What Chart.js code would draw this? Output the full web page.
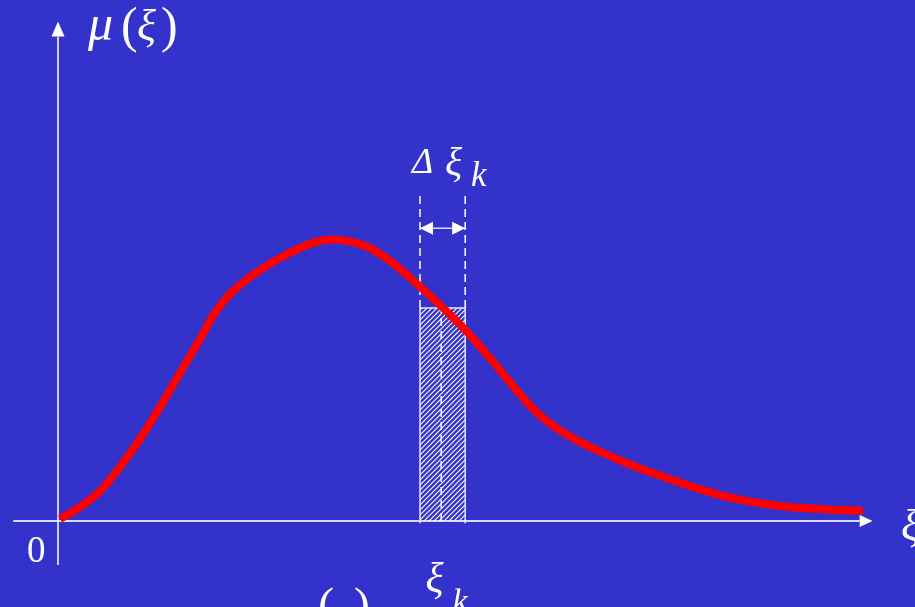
<!DOCTYPE html>
<html>
<head>
<meta charset="utf-8">
<script src="https://cdn.jsdelivr.net/npm/chart.js@4.4.1/dist/chart.umd.min.js"></script>
<style>
  html, body { margin: 0; padding: 0; background: #3333cc; }
  canvas { display: block; }
</style>
</head>
<body>
<canvas id="chart" width="915" height="607"></canvas>
<script>
// density curve mu(xi), sampled along the xi axis
const xiValues = [0.025, 0.275, 0.525, 0.775, 1.025, 1.275, 1.525, 1.775, 1.96, 2.15, 2.4, 2.71, 3.025, 3.275, 3.525,
                  3.84, 4.15, 4.46, 4.775, 5.09, 5.4, 5.71, 6.025, 6.4, 6.9, 7.4, 7.9, 8.46, 9.025, 9.525, 10.06];
const muValues = [0.007, 0.05, 0.107, 0.193, 0.293, 0.407, 0.529, 0.65, 0.743, 0.811, 0.871, 0.929, 0.975, 1.0, 1.004,
                  0.982, 0.929, 0.854, 0.771, 0.682, 0.582, 0.475, 0.377, 0.302, 0.232, 0.175, 0.125, 0.08, 0.054, 0.043, 0.036];

// the strip [xi_k, xi_k + dxi] under the curve
const stripEdges = [4.525, 5.09];
const stripMid = 4.79;
const stripHeight = 0.761;
const guideTop = 1.164;
const arrowLevel = 1.046;

// axis extents (xi and mu units)
const xiAxis = [-0.56, 10.02];
const muAxis = [-0.157, 1.73];

const BG = '#3333cc';

// diagonal hatching for the strip
function hatch() {
    const c = document.createElement('canvas');
    c.width = 5; c.height = 5;
    const g = c.getContext('2d');
    g.strokeStyle = '#ffffff';
    g.lineWidth = 1.1;
    g.beginPath();
    g.moveTo(-1, 6); g.lineTo(6, -1);
    g.moveTo(-1, 1); g.lineTo(1, -1);
    g.moveTo(4, 6); g.lineTo(6, 4);
    g.stroke();
    return g.createPattern(c, 'repeat');
}

const curve = xiValues.map((x, i) => ({ x: x, y: muValues[i] }));
const [sL, sR] = stripEdges;

function guide(points) {
    return {
        data: points, borderColor: '#ffffff', borderWidth: 1.5, borderDash: [8, 5],
        pointRadius: 0, fill: false, tension: 0, order: 2
    };
}

const datasets = [
    {
        data: curve, borderColor: '#ff0000', borderWidth: 8, pointRadius: 0,
        tension: 0.4, fill: false, order: 0
    },
    {
        data: [{ x: sL, y: -0.008 }, { x: sL, y: stripHeight }, { x: sR, y: stripHeight }, { x: sR, y: -0.008 }],
        borderColor: '#e8e8ff', borderWidth: 1.5, backgroundColor: hatch(),
        pointRadius: 0, fill: 'origin', tension: 0, order: 3
    },
    guide([{ x: sL, y: stripHeight }, { x: sL, y: guideTop }]),
    guide([{ x: sR, y: stripHeight }, { x: sR, y: guideTop }]),
    guide([{ x: stripMid, y: 0 }, { x: stripMid, y: stripHeight }]),
    {
        data: [{ x: sL, y: arrowLevel }, { x: sR, y: arrowLevel }],
        borderColor: '#d8d8ff', borderWidth: 1.5, pointRadius: 0, fill: false, order: 2
    }
];

const decorations = {
    id: 'decorations',
    beforeDraw(chart) {
        const { ctx } = chart;
        ctx.save();
        ctx.fillStyle = BG;
        ctx.fillRect(0, 0, chart.width, chart.height);
        ctx.restore();
    },
    beforeDatasetsDraw(chart) {
        const { ctx, scales: { x, y } } = chart;
        const x0 = x.getPixelForValue(0), y0 = y.getPixelForValue(0);
        ctx.save();
        // xi axis
        const xa = x.getPixelForValue(xiAxis[0]), xb = x.getPixelForValue(xiAxis[1]);
        ctx.strokeStyle = '#d8d8ff';
        ctx.lineWidth = 2;
        ctx.beginPath(); ctx.moveTo(xa, y0); ctx.lineTo(xb, y0); ctx.stroke();
        ctx.fillStyle = '#ffffff';
        ctx.beginPath(); ctx.moveTo(xb, y0 - 6); ctx.lineTo(xb + 13, y0); ctx.lineTo(xb, y0 + 6); ctx.closePath(); ctx.fill();
        // mu axis
        const ya = y.getPixelForValue(muAxis[0]), yb = y.getPixelForValue(muAxis[1]);
        ctx.strokeStyle = '#ffffff';
        ctx.lineWidth = 1.5;
        ctx.beginPath(); ctx.moveTo(x0, ya); ctx.lineTo(x0, yb); ctx.stroke();
        ctx.beginPath(); ctx.moveTo(x0 - 6.5, yb); ctx.lineTo(x0, yb - 15); ctx.lineTo(x0 + 6.5, yb); ctx.closePath(); ctx.fill();
        ctx.restore();
    },
    afterDatasetsDraw(chart) {
        const { ctx, scales: { x, y } } = chart;
        ctx.save();
        // heads of the delta-xi arrow
        const ay = y.getPixelForValue(arrowLevel);
        const l = x.getPixelForValue(sL), r = x.getPixelForValue(sR);
        ctx.fillStyle = '#ffffff';
        ctx.beginPath(); ctx.moveTo(l, ay); ctx.lineTo(l + 13, ay - 6.5); ctx.lineTo(l + 13, ay + 6.5); ctx.closePath(); ctx.fill();
        ctx.beginPath(); ctx.moveTo(r, ay); ctx.lineTo(r - 13, ay - 6.5); ctx.lineTo(r - 13, ay + 6.5); ctx.closePath(); ctx.fill();

        // labels
        const it = (s) => 'italic ' + s + 'px "Liberation Serif", "DejaVu Serif", serif';
        const up = (s) => s + 'px "Liberation Serif", "DejaVu Serif", serif';
        ctx.fillStyle = '#ffffff';
        ctx.textBaseline = 'alphabetic';
        ctx.textAlign = 'left';
        const put = (t, f, px, py) => { ctx.font = f; ctx.fillText(t, px, py); };

        put('\u03bc', it(50), 88, 40);
        put('(', up(50), 121, 42);
        put('\u03be', it(44), 137, 40);
        put(')', up(50), 161, 42);

        put('\u0394', it(36), 412, 173);
        put('\u03be', it(40), 445, 175);
        put('k', it(35), 471, 186);

        put('0', up(37), 27, 562);

        const xm = (l + r) / 2;
        put('\u03be', it(42), xm - 17, 592);
        put('k', it(34), xm + 10, 612);

        put('\u03be', it(44), 901, 540);

        put('(', up(48), 318, 621);
        put(')', up(48), 354, 621);

        put('\u03be', it(40), 406, -9);
        put('k', it(34), 451, -1);
        put('\u03be', it(40), 792, -9);
        put('k', it(34), 837, -1);
        ctx.restore();
    }
};

new Chart(document.getElementById('chart').getContext('2d'), {
    type: 'line',
    data: { datasets: datasets },
    options: {
        responsive: false,
        animation: false,
        devicePixelRatio: 1,
        layout: { padding: 0 },
        parsing: false,
        plugins: { legend: { display: false }, tooltip: { enabled: false } },
        scales: {
            x: { type: 'linear', min: -0.725, max: 10.7125, display: false },
            y: { type: 'linear', min: -0.307, max: 1.8607, display: false }
        }
    },
    plugins: [decorations]
});
</script>
</body>
</html>
